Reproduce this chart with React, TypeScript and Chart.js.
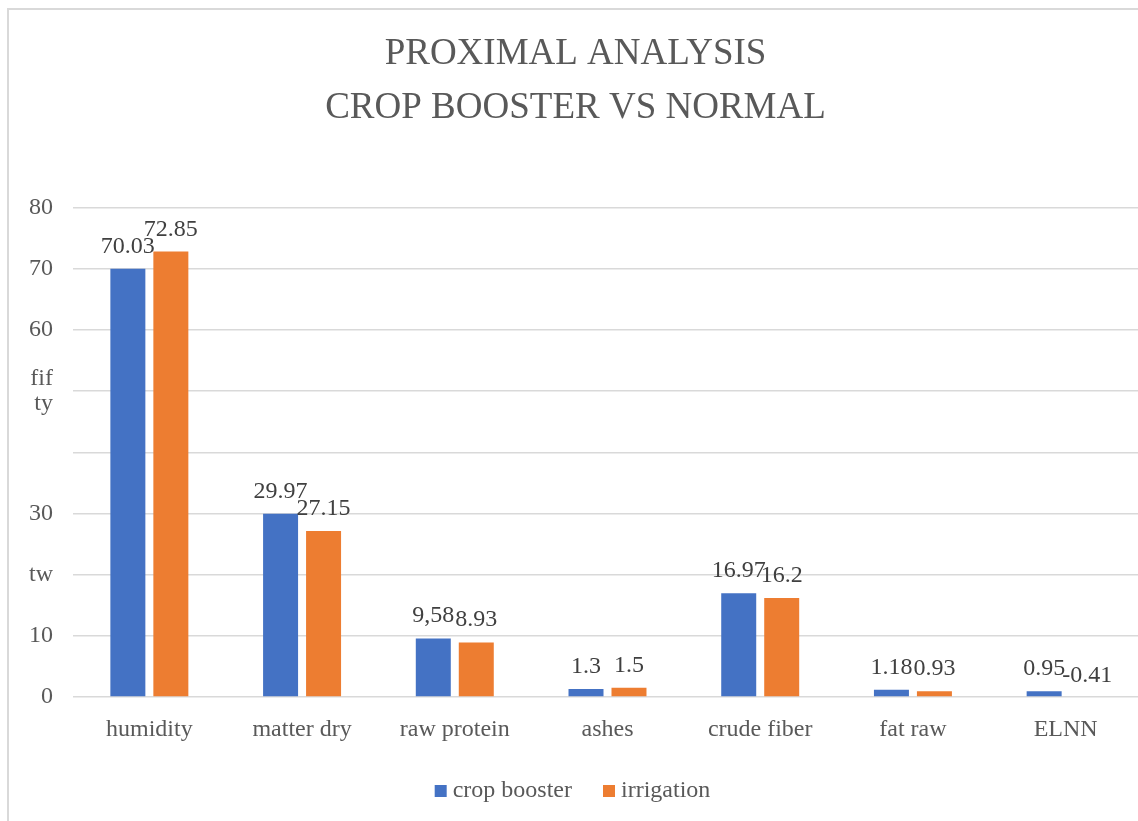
import { useEffect, useRef } from "react";
import { Chart, registerables } from "chart.js";

Chart.register(...registerables);

const FONT = "'Liberation Serif', 'Times New Roman', serif";

const titleLines = ["PROXIMAL ANALYSIS", "CROP BOOSTER VS NORMAL"];
const categories = ["humidity", "matter dry", "raw protein", "ashes", "crude fiber", "fat raw", "ELNN"];
const seriesNames = ["crop booster", "irrigation"];
const cropBooster = [70.03, 29.97, 9.58, 1.3, 16.97, 1.18, 0.95];
const irrigation = [72.85, 27.15, 8.93, 1.5, 16.2, 0.93, -0.41];
const cropBoosterLabels = ["70.03", "29.97", "9,58", "1.3", "16.97", "1.18", "0.95"];
const irrigationLabels = ["72.85", "27.15", "8.93", "1.5", "16.2", "0.93", "-0.41"];
const yTickLabels = ["0", "10", "tw", "30", "", "fif\nty", "60", "70", "80"];
const seriesColors = ["#4472C4", "#ED7D31"];

const dataLabelPlugin = {
  id: "dataLabels",
  afterDatasetsDraw(chart: any) {
    const ctx = chart.ctx;
    const sets = [cropBoosterLabels, irrigationLabels];
    ctx.save();
    ctx.font = `24px ${FONT}`;
    ctx.fillStyle = "#404040";
    ctx.textAlign = "center";
    ctx.textBaseline = "alphabetic";
    chart.data.datasets.forEach((_ds: any, di: number) => {
      const meta = chart.getDatasetMeta(di);
      meta.data.forEach((bar: any, i: number) => {
        const top = Math.min(bar.y, bar.base);
        ctx.fillText(sets[di][i], bar.x, top - 16);
      });
    });
    ctx.restore();
  },
};

export default function App() {
  const ref = useRef<HTMLCanvasElement | null>(null);

  useEffect(() => {
    if (!ref.current) return;
    const chart = new Chart(ref.current, {
      type: "bar",
      data: {
        labels: categories,
        datasets: [
          {
            label: seriesNames[0],
            data: cropBooster,
            backgroundColor: seriesColors[0],
            categoryPercentage: 0.563,
            barPercentage: 0.814,
            pointStyle: "rect",
          },
          {
            label: seriesNames[1],
            data: irrigation,
            backgroundColor: seriesColors[1],
            categoryPercentage: 0.563,
            barPercentage: 0.814,
            pointStyle: "rect",
          },
        ],
      },
      options: {
        responsive: false,
        devicePixelRatio: 1,
        animation: false,
        layout: { padding: { left: 0, right: 3, top: 0, bottom: 8 } },
        plugins: {
          tooltip: { enabled: false },
          title: {
            display: true,
            text: titleLines,
            color: "#595959",
            font: { family: FONT, size: 37, weight: "normal", lineHeight: 1.47 },
            padding: { top: 17, bottom: 72 },
          },
          legend: {
            position: "bottom",
            labels: {
              font: { family: FONT, size: 24 },
              color: "#595959",
              usePointStyle: true,
              pointStyle: "rect",
              boxWidth: 0.01,
              boxHeight: 12,
              padding: 37,
            },
          },
        },
        scales: {
          x: {
            grid: { display: false },
            border: { display: false },
            ticks: {
              color: "#595959",
              font: { family: FONT, size: 24, lineHeight: 1.2 },
              padding: 10,
              maxRotation: 0,
              autoSkip: false,
            },
            afterFit: (scale: any) => {
              scale.height = 45;
            },
          },
          y: {
            min: 0,
            max: 80,
            border: { display: false },
            grid: { color: "#d9d9d9", lineWidth: 1.5, drawTicks: false },
            ticks: {
              stepSize: 10,
              color: "#595959",
              font: { family: FONT, size: 24, lineHeight: 1.05 },
              padding: 20,
              callback: (_v: any, index: number) => {
                const s = yTickLabels[index] ?? "";
                return s.includes("\n") ? s.split("\n") : s;
              },
            },
            afterFit: (scale: any) => {
              scale.width = 64;
            },
          },
        },
      },
      plugins: [dataLabelPlugin],
    } as any);
    return () => chart.destroy();
  }, []);

  return (
    <div
      style={{
        position: "fixed",
        left: 0,
        top: 0,
        width: 1138,
        height: 821,
        overflow: "hidden",
        background: "#fff",
      }}
    >
      <div
        style={{
          position: "absolute",
          left: 7,
          top: 8,
          width: 1136,
          height: 811,
          border: "2px solid #d9d9d9",
        }}
      >
        <canvas ref={ref} width={1136} height={811} style={{ display: "block", width: 1136, height: 811 }} />
      </div>
    </div>
  );
}
